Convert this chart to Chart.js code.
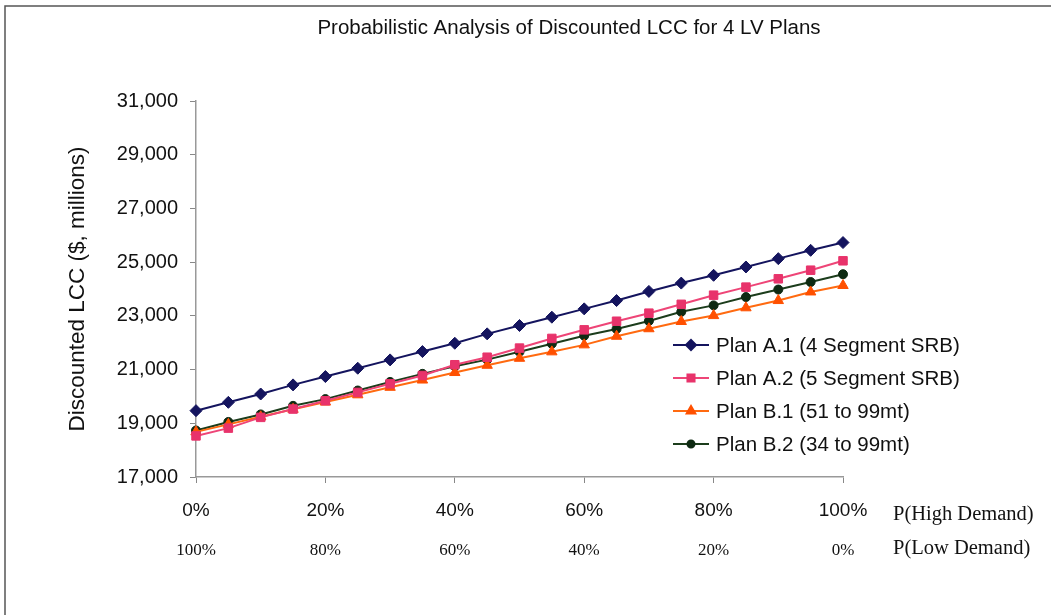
<!DOCTYPE html>
<html>
<head>
<meta charset="utf-8">
<script src="https://cdn.jsdelivr.net/npm/chart.js@4.4.1/dist/chart.umd.min.js"></script>
<style>
  html, body { margin: 0; padding: 0; background: #fff; }
  #wrap { width: 1051px; height: 615px; position: relative; }
</style>
</head>
<body>
<div id="wrap"><canvas id="lccChart" width="1051" height="615"></canvas></div>
<script>
// x categories: probability of high demand, and the matching low demand row
const highDemand = ['0%', '5%', '10%', '15%', '20%', '25%', '30%', '35%', '40%', '45%', '50%',
  '55%', '60%', '65%', '70%', '75%', '80%', '85%', '90%', '95%', '100%'];
const lowDemand = ['100%', '95%', '90%', '85%', '80%', '75%', '70%', '65%', '60%', '55%', '50%',
  '45%', '40%', '35%', '30%', '25%', '20%', '15%', '10%', '5%', '0%'];

// discounted LCC, $ millions
const planA1 = [19470, 19780, 20090, 20430, 20740, 21050, 21360, 21670, 21980, 22330, 22640,
  22950, 23260, 23570, 23910, 24220, 24510, 24820, 25130, 25440, 25730];
const planA2 = [18530, 18820, 19220, 19530, 19840, 20150, 20470, 20780, 21180, 21460, 21800,
  22160, 22480, 22800, 23100, 23430, 23770, 24070, 24380, 24700, 25050];
const planB1 = [18680, 18960, 19240, 19520, 19790, 20060, 20340, 20610, 20890, 21160, 21420,
  21660, 21920, 22240, 22520, 22790, 23010, 23300, 23570, 23890, 24130];
const planB2 = [18730, 19050, 19330, 19650, 19900, 20220, 20540, 20840, 21120, 21370, 21660,
  21960, 22260, 22510, 22810, 23150, 23390, 23700, 23980, 24260, 24550];

const seriesNames = ['Plan A.1 (4 Segment SRB)', 'Plan A.2 (5 Segment SRB)',
  'Plan B.1 (51 to 99mt)', 'Plan B.2 (34 to 99mt)'];

const chartTitle = 'Probabilistic Analysis of Discounted LCC for 4 LV Plans';
const yTicks = { min: 17000, max: 31000, step: 2000 };

const sans = "'Liberation Sans', Arial, sans-serif";
const serif = "'Liberation Serif', 'Times New Roman', serif";

function drawMarker(c, style, x, y, r) {
  if (Chart.helpers && Chart.helpers.drawPoint) {
    Chart.helpers.drawPoint(c, { pointStyle: style, radius: r, rotation: 0, borderWidth: 1 }, x, y);
    return;
  }
  c.beginPath();
  c.arc(x, y, r, 0, Math.PI * 2);
  c.fill();
}

// frame, title, right-side row captions and the legend inside the plot
const extras = {
  id: 'extras',
  beforeDraw(chart) {
    const c = chart.ctx;
    c.save();
    c.strokeStyle = '#555';
    c.lineWidth = 1.5;
    c.beginPath();
    c.moveTo(5, 615);
    c.lineTo(5, 6);
    c.lineTo(1051, 6);
    c.stroke();
    c.restore();
  },
  afterDraw(chart) {
    const c = chart.ctx;
    const area = chart.chartArea;
    const xs = chart.scales.x, x2 = chart.scales.x2;
    c.save();
    c.fillStyle = '#111';
    c.textBaseline = 'middle';

    c.textAlign = 'center';
    c.font = '20.5px ' + sans;
    c.fillText(chartTitle, 569, 28);

    c.textAlign = 'left';
    c.font = '20.5px ' + serif;
    c.fillText('P(High Demand)', area.right + 50, xs.top + 38);
    c.fillText('P(Low Demand)', area.right + 50, x2.top + 24);

    // legend
    const lx = area.left + 477, ly = area.top + 244, rowH = 33;
    c.font = '20.5px ' + sans;
    chart.data.datasets.forEach((ds, i) => {
      const y = ly + i * rowH;
      c.strokeStyle = ds.borderColor;
      c.lineWidth = 2;
      c.beginPath();
      c.moveTo(lx, y);
      c.lineTo(lx + 36, y);
      c.stroke();
      c.fillStyle = ds.pointBackgroundColor;
      c.strokeStyle = ds.pointBorderColor;
      drawMarker(c, ds.pointStyle, lx + 18, y, ds.pointRadius - 1);
      c.fillStyle = '#111';
      c.fillText(ds.label, lx + 43, y + 1);
    });
    c.restore();
  }
};

const ctx = document.getElementById('lccChart').getContext('2d');

const chart = new Chart(ctx, {
  type: 'line',
  data: {
    labels: highDemand,
    datasets: [
      {
        label: seriesNames[0], data: planA1,
        borderColor: '#14145e', pointBackgroundColor: '#14145e', pointBorderColor: '#14145e',
        pointStyle: 'rectRot', pointRadius: 6
      },
      {
        label: seriesNames[1], data: planA2,
        borderColor: '#ee4577', pointBackgroundColor: '#e8336b', pointBorderColor: '#e8336b',
        pointStyle: 'rect', pointRadius: 6
      },
      {
        label: seriesNames[2], data: planB1,
        borderColor: '#ff6a10', pointBackgroundColor: '#ff5000', pointBorderColor: '#ff5000',
        pointStyle: 'triangle', pointRadius: 6
      },
      {
        label: seriesNames[3], data: planB2,
        borderColor: '#1c3d1c', pointBackgroundColor: '#0e2a12', pointBorderColor: '#0e2a12',
        pointStyle: 'circle', pointRadius: 4.5
      }
    ]
  },
  options: {
    responsive: false,
    animation: false,
    layout: {
      padding: { left: 0, right: 208, top: 101, bottom: 50 }
    },
    elements: {
      line: { borderWidth: 2, tension: 0 },
      point: { borderWidth: 1 }
    },
    plugins: {
      legend: { display: false },
      tooltip: { enabled: false },
      title: { display: false }
    },
    scales: {
      x: {
        type: 'category',
        position: 'bottom',
        weight: 0,
        offset: false,
        grid: {
          drawOnChartArea: false,
          drawTicks: true,
          tickLength: 6,
          tickColor: (c) => (c.index % 4 === 0 ? '#888' : 'transparent')
        },
        border: { color: '#999', width: 1.5 },
        ticks: {
          autoSkip: false,
          maxRotation: 0,
          padding: 16,
          color: '#111',
          font: { family: sans, size: 19 },
          callback: function (v, i) { return i % 4 === 0 ? this.getLabelForValue(v) : ''; }
        },
        afterFit: (s) => { s.height = 48; }
      },
      x2: {
        type: 'category',
        position: 'bottom',
        weight: 1,
        labels: lowDemand,
        offset: false,
        grid: { display: false },
        border: { display: false },
        ticks: {
          autoSkip: false,
          maxRotation: 0,
          padding: 7,
          color: '#111',
          font: { family: serif, size: 17 },
          callback: function (v, i) { return i % 4 === 0 ? this.getLabelForValue(v) : ''; }
        },
        afterFit: (s) => { s.height = 40; }
      },
      y: {
        min: yTicks.min,
        max: yTicks.max,
        grid: { drawOnChartArea: false, drawTicks: true, tickLength: 6, tickColor: '#888' },
        border: { color: '#999', width: 1.5 },
        ticks: {
          stepSize: yTicks.step,
          padding: 12,
          color: '#111',
          font: { family: sans, size: 20 },
          callback: (v) => v.toLocaleString('en-US')
        },
        title: {
          display: true,
          text: 'Discounted LCC ($, millions)',
          color: '#111',
          font: { family: sans, size: 22.5 },
          padding: { top: 64, bottom: 0 }
        },
        afterFit: (s) => { s.width = 196; }
      }
    }
  },
  plugins: [extras]
});
</script>
</body>
</html>
